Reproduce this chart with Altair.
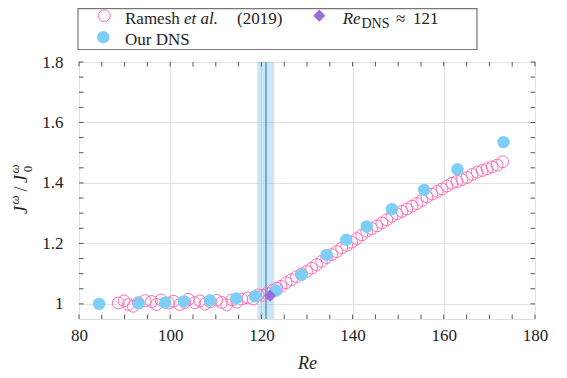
import altair as alt
import pandas as pd

# ---------------- data ----------------
ramesh_re = [88.6, 89.9, 90.8, 91.9, 93.0, 94.5, 95.9, 97.0, 98.0, 99.6,
             100.7, 102.1, 103.2, 104.0, 105.4, 106.5, 107.6, 108.8, 110.2, 111.3,
             112.4, 113.5, 114.6, 115.7, 117.1, 118.2, 119.3, 120.3, 121.2, 122.6,
             123.4, 124.3, 125.4, 126.6, 127.7, 128.8, 129.9, 131.0, 132.1, 133.2,
             134.3, 135.4, 136.5, 137.6, 138.7, 139.8, 140.9, 142.0, 143.1, 144.2,
             145.3, 146.4, 147.5, 148.6, 149.7, 150.8, 151.9, 153.0, 154.1, 155.2,
             156.3, 157.4, 158.5, 159.6, 160.7, 161.8, 162.9, 164.0, 165.1, 166.2,
             167.3, 168.4, 169.5, 170.6, 171.7, 172.9]
ramesh_j = [1.003, 1.010, 0.998, 0.992, 1.004, 1.011, 1.008, 0.998, 1.013, 1.003,
            1.009, 0.998, 1.005, 1.015, 1.004, 1.010, 0.999, 1.007, 1.012, 1.005,
            0.997, 1.013, 1.006, 1.016, 1.020, 1.016, 1.030, 1.028, 1.035, 1.046,
            1.052, 1.058, 1.070, 1.080, 1.090, 1.099, 1.107, 1.118, 1.130, 1.141,
            1.153, 1.163, 1.173, 1.185, 1.194, 1.204, 1.216, 1.228, 1.240, 1.249,
            1.258, 1.268, 1.278, 1.289, 1.298, 1.306, 1.314, 1.323, 1.332, 1.342,
            1.354, 1.363, 1.372, 1.380, 1.390, 1.399, 1.405, 1.411, 1.418, 1.428,
            1.436, 1.441, 1.447, 1.453, 1.459, 1.470]

dns_re = [84.4, 93.1, 98.9, 103.0, 108.7, 114.5, 118.6, 123.2, 128.8, 134.3,
          138.6, 143.1, 148.6, 155.7, 163.0, 173.1]
dns_j = [1.000, 1.002, 1.004, 1.008, 1.011, 1.018, 1.025, 1.044, 1.096, 1.162,
         1.212, 1.256, 1.313, 1.377, 1.445, 1.535]

redns_re = [121.9]
redns_j = [1.027]

band_lo = [119.1]
band_hi = [122.8]
band_mid = [121.0]

x_major = [80, 100, 120, 140, 160, 180]
x_minor = [80, 85, 90, 95, 100, 105, 110, 115, 120, 125, 130, 135, 140, 145,
           150, 155, 160, 165, 170, 175, 180]
y_major = [1.0, 1.2, 1.4, 1.6, 1.8]
y_minor = [1.0, 1.05, 1.1, 1.15, 1.2, 1.25, 1.3, 1.35, 1.4, 1.45, 1.5, 1.55,
           1.6, 1.65, 1.7, 1.75, 1.8]

# ---------------- style ----------------
W, H = 456, 257
FONT = "'Liberation Serif', 'DejaVu Serif', serif"
TXT = "#222222"
PINK = "#ff6fb5"
BLUE = "#7dcff7"
PURPLE = "#9470d8"
BAND = "#7fbfe0"
LINE = "#3d9bd6"
TICK = "#555555"
TL = 4.5

xscale = alt.Scale(domain=[80, 180], nice=False, zero=False)
yscale = alt.Scale(domain=[0.95, 1.8], nice=False, zero=False)

xaxis = alt.Axis(values=x_major, title="Re", grid=True, gridColor="#e2e2e2",
                 ticks=False, tickSize=0, domain=False, labelFlush=False,
                 labelFont=FONT, labelFontSize=17, labelColor=TXT, labelPadding=8,
                 titleFont=FONT, titleFontSize=18, titleFontStyle="italic",
                 titleFontWeight="normal", titleColor=TXT, titlePadding=11)
yaxis = alt.Axis(values=y_major, format="~g", title=None, grid=True,
                 gridColor="#e2e2e2", ticks=False, tickSize=0, domain=False,
                 labelFont=FONT, labelFontSize=17, labelColor=TXT, labelPadding=16)


def X(field):
    return alt.X(field, scale=xscale, axis=xaxis, title="Re")


def Y(field):
    return alt.Y(field, scale=yscale, axis=yaxis, title=None)


one = pd.DataFrame({"a": [1]})

band = alt.Chart(pd.DataFrame({"lo": band_lo, "hi": band_hi})).mark_rect(
    color=BAND, opacity=0.4).encode(
    x=X("lo:Q"), x2="hi:Q", y=alt.value(0), y2=alt.value(H))

vline = alt.Chart(pd.DataFrame({"m": band_mid})).mark_rule(
    color=LINE, strokeWidth=1.4).encode(
    x=X("m:Q"), y=alt.value(0), y2=alt.value(H))

ramesh = alt.Chart(pd.DataFrame({"re": ramesh_re, "j": ramesh_j})).mark_point(
    shape="circle", filled=False, color=PINK, strokeWidth=1, size=140, opacity=1).encode(
    x=X("re:Q"), y=Y("j:Q"))

dns = alt.Chart(pd.DataFrame({"re": dns_re, "j": dns_j})).mark_circle(
    color=BLUE, size=155, opacity=1).encode(x=X("re:Q"), y=Y("j:Q"))

redns = alt.Chart(pd.DataFrame({"re": redns_re, "j": redns_j})).mark_point(
    shape="diamond", filled=True, color=PURPLE, size=150, opacity=1).encode(
    x=X("re:Q"), y=Y("j:Q"))

# inward ticks on all four sides
xt = pd.DataFrame({"v": x_minor})
yt = pd.DataFrame({"v": y_minor})
tb = alt.Chart(xt).mark_rule(color=TICK, strokeWidth=1).encode(
    x=X("v:Q"), y=alt.value(H), y2=alt.value(H - TL))
tt = alt.Chart(xt).mark_rule(color=TICK, strokeWidth=1).encode(
    x=X("v:Q"), y=alt.value(0), y2=alt.value(TL))
tl = alt.Chart(yt).mark_rule(color=TICK, strokeWidth=1).encode(
    y=Y("v:Q"), x=alt.value(0), x2=alt.value(TL))
tr = alt.Chart(yt).mark_rule(color=TICK, strokeWidth=1).encode(
    y=Y("v:Q"), x=alt.value(W - TL), x2=alt.value(W))


def txt(s, x, y, size=17, style="normal", angle=0, align="left", baseline="alphabetic"):
    return alt.Chart(one).mark_text(
        font=FONT, fontSize=size, fontStyle=style, color=TXT, align=align,
        baseline=baseline, angle=angle).encode(
        x=alt.value(x), y=alt.value(y), text=alt.value(s))


def sym(shape, x, y, filled, color, size):
    return alt.Chart(one).mark_point(
        shape=shape, filled=filled, color=color, size=size, opacity=1,
        strokeWidth=1).encode(x=alt.value(x), y=alt.value(y))


# legend box
legend_box = alt.Chart(one).mark_rect(
    fill="white", stroke="#777777", strokeWidth=1.2).encode(
    x=alt.value(-1), x2=alt.value(398), y=alt.value(-53.4), y2=alt.value(-12.5))

R1 = -38.0
R2 = -17.0
legend = [
    legend_box,
    sym("circle", 25.3, -46.3, False, PINK, 140),
    txt("Ramesh", 46, R1),
    txt("et al.", 105, R1, style="italic"),
    txt("(2019)", 158, R1),
    sym("diamond", 240.3, -46.3, True, PURPLE, 150),
    txt("Re", 263.7, R1, style="italic"),
    txt("DNS", 282.5, R1 + 3.5, size=14),
    txt("≈", 317, R1),
    txt("121", 334, R1),
    sym("circle", 24.3, -24.8, True, BLUE, 155),
    txt("Our DNS", 46, R2),
]

# y-axis title  J^ω / J_0^ω  (rotated, composed)
ytitle = [
    txt("J", -57, 148, size=18, style="italic", angle=270, align="center", baseline="middle"),
    txt("ω", -64, 138, size=13, style="italic", angle=270, align="center", baseline="middle"),
    txt("/", -57, 127, size=18, angle=270, align="center", baseline="middle"),
    txt("J", -57, 117, size=18, style="italic", angle=270, align="center", baseline="middle"),
    txt("ω", -64, 107, size=13, style="italic", angle=270, align="center", baseline="middle"),
    txt("0", -51, 107, size=13, angle=270, align="center", baseline="middle"),
]

chart = alt.layer(
    band, vline, ramesh, dns, redns, tb, tt, tl, tr, *legend, *ytitle
).properties(
    width=W, height=H,
    autosize=alt.AutoSizeParams(type="none"),
    padding={"left": 71, "top": 54, "right": 24, "bottom": 52},
).configure_view(stroke="#666666", strokeWidth=1.2).configure(background="white")

chart.save("out.html", embed_options={"renderer": "svg", "actions": False})
